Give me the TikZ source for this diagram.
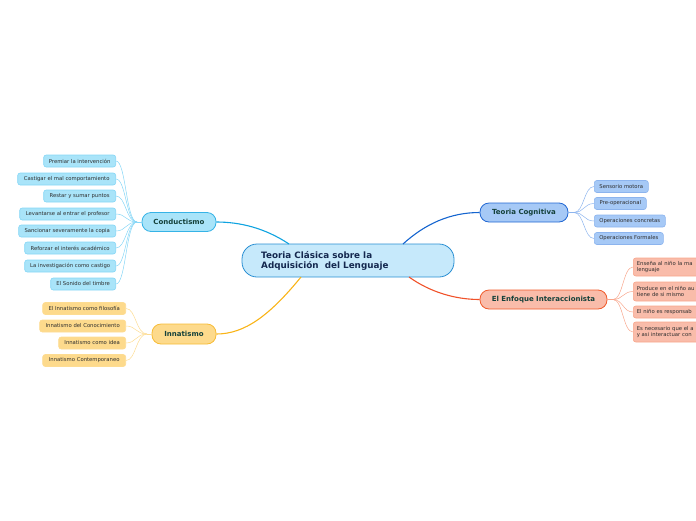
\documentclass[tikz,border=0pt]{standalone}
\usepackage{fontspec}
\setmainfont{DejaVu Sans}
\definecolor{cfill}{HTML}{C6E9FB}
\definecolor{cdraw}{HTML}{2A8FD3}
\definecolor{ctext}{HTML}{14284F}
\definecolor{kfill}{HTML}{A9E4F9}
\definecolor{kdraw}{HTML}{36B3E6}
\definecolor{kline}{HTML}{0FA3E0}
\definecolor{klight}{HTML}{86D6F6}
\definecolor{ifill}{HTML}{FDDA8C}
\definecolor{idraw}{HTML}{F7BC36}
\definecolor{iline}{HTML}{F9B418}
\definecolor{ilight}{HTML}{FDDC92}
\definecolor{tfill}{HTML}{A6C9F6}
\definecolor{tdraw}{HTML}{2167D3}
\definecolor{tline}{HTML}{1565CF}
\definecolor{tlight}{HTML}{8CB4EE}
\definecolor{efill}{HTML}{F9BCAA}
\definecolor{edraw}{HTML}{F05A2A}
\definecolor{eline}{HTML}{F0522A}
\definecolor{elight}{HTML}{F8A68C}
\definecolor{maintext}{HTML}{14413A}
\definecolor{leaftext}{HTML}{2E2E2E}
\tikzset{
  x=1pt, y=-1pt,
  leafbox/.style={rounded corners=2.5pt, line width=0.6pt, inner sep=1pt,
    minimum height=12pt, font=\fontsize{5.3}{6.3}\selectfont, text=leaftext},
  kleaf/.style={leafbox, draw=klight, fill=kfill},
  ileaf/.style={leafbox, draw=ilight, fill=ifill},
  tleaf/.style={leafbox, draw=tlight, fill=tfill},
  eleaf/.style={leafbox, draw=elight, fill=efill, align=left, text width=80pt, inner xsep=3.5pt},
  mainbox/.style={rounded corners=9pt, line width=0.8pt, inner sep=1pt,
    minimum height=19pt, font=\bfseries\fontsize{7}{8}\selectfont, text=maintext},
  centerbox/.style={rounded corners=15pt, line width=0.8pt, draw=cdraw, fill=cfill,
    minimum width=212pt, minimum height=33pt},
  kconn/.style={draw=klight, line width=0.5pt},
  iconn/.style={draw=ilight, line width=0.5pt},
  tconn/.style={draw=tlight, line width=0.5pt},
  econn/.style={draw=elight, line width=0.5pt},
}
\begin{document}
\begin{tikzpicture}
\useasboundingbox (0,0) rectangle (696,520);
\clip (0,0) rectangle (696,520);

% central
\node[centerbox] (center) at (348,260.5) {};
\node[font=\bfseries\fontsize{8.8}{10.8}\selectfont, text=ctext, align=left, anchor=west, inner sep=0pt] (ctitle) at (261,261) {Teoria Clásica sobre la\\Adquisición\ \ del Lenguaje};

% main nodes
\node[mainbox, draw=kdraw, fill=kfill, minimum width=74pt] (cond) at (179,222) {Conductismo};
\node[mainbox, draw=idraw, fill=ifill, minimum width=64pt, minimum height=20pt] (inna) at (184,334) {Innatismo};
\node[mainbox, draw=tdraw, fill=tfill, minimum width=88pt] (cogn) at (524,212.5) {Teoria Cognitiva};
\node[mainbox, draw=edraw, fill=efill, minimum width=127pt] (inter) at (543.5,299.5) {El Enfoque Interaccionista};

% main connectors
\coordinate (cA) at (289,244);
\coordinate (cB) at (301,277);
\coordinate (cC) at (403,244);
\coordinate (cD) at (409,277);
\draw[draw=kline, line width=1.1pt] (cA) .. controls (265,228) and (240,222) .. (cond.east);
\draw[draw=iline, line width=1.1pt] (cB) .. controls (270,315) and (245,334) .. (inna.east);
\draw[draw=tline, line width=1.1pt] (cC) .. controls (425,224) and (450,212.5) .. (cogn.west);
\draw[draw=eline, line width=1.1pt] (cD) .. controls (430,292) and (455,299.5) .. (inter.west);

% Conductismo leaves
\node[kleaf, anchor=east, minimum width=72pt] (k1) at (116,161) {Premiar la intervención};
\node[kleaf, anchor=east, minimum width=98pt] (k2) at (116,179) {Castigar el mal comportamiento};
\node[kleaf, anchor=east, minimum width=72pt] (k3) at (116,196) {Restar y sumar puntos};
\node[kleaf, anchor=east, minimum width=96pt] (k4) at (116,214) {Levantarse al entrar el profesor};
\node[kleaf, anchor=east, minimum width=97pt] (k5) at (116,231) {Sancionar severamente la copia};
\node[kleaf, anchor=east, minimum width=91pt] (k6) at (116,248) {Reforzar el interés académico};
\node[kleaf, anchor=east, minimum width=91pt] (k7) at (116,266) {La investigación como castigo};
\node[kleaf, anchor=east, minimum width=65pt] (k8) at (116,284) {El Sonido del timbre};
\coordinate (kj) at (137,222);
\draw[kconn] (cond.west) -- (kj);
\foreach \n in {k1,k2,k3,k4,k5,k6,k7,k8}
  \draw[kconn] (kj) .. controls (126,222) and (126,0 |- \n.east) .. (\n.east);

% Innatismo leaves
\node[ileaf, anchor=east, minimum width=83pt] (i1) at (126,308.5) {El Innatismo como filosofía};
\node[ileaf, anchor=east, minimum width=86pt] (i2) at (126,326) {Innatismo del Conocimiento};
\node[ileaf, anchor=east, minimum width=67pt] (i3) at (126,343) {Innatismo como idea};
\node[ileaf, anchor=east, minimum width=83pt] (i4) at (126,360.5) {Innatismo Contemporaneo};
\coordinate (ij) at (147,334);
\draw[iconn] (inna.west) -- (ij);
\foreach \n in {i1,i2,i3,i4}
  \draw[iconn] (ij) .. controls (136,334) and (136,0 |- \n.east) .. (\n.east);

% Cognitiva leaves
\node[tleaf, anchor=west, minimum width=54pt] (t1) at (594,186.5) {Sensorio motora};
\node[tleaf, anchor=west, minimum width=52pt] (t2) at (594,203.5) {Pre-operacional};
\node[tleaf, anchor=west, minimum width=71pt] (t3) at (594,221) {Operaciones concretas};
\node[tleaf, anchor=west, minimum width=69pt] (t4) at (594,238.5) {Operaciones Formales};
\coordinate (tj) at (574,212.5);
\draw[tconn] (cogn.east) -- (tj);
\foreach \n in {t1,t2,t3,t4}
  \draw[tconn] (tj) .. controls (584,212.5) and (584,0 |- \n.west) .. (\n.west);

% Interaccionista leaves
\node[eleaf, anchor=west, minimum height=18pt] (e1) at (633,267) {Enseña al niño la ma\\lenguaje};
\node[eleaf, anchor=west, minimum height=19pt] (e2) at (633,291.5) {Produce en el niño au\\tiene de si mismo};
\node[eleaf, anchor=west, minimum height=12pt] (e3) at (633,312) {El niño es responsab};
\node[eleaf, anchor=west, minimum height=20pt] (e4) at (633,332) {Es necesario que el a\\y asi interactuar con};
\coordinate (ej) at (613,299.5);
\draw[econn] (inter.east) -- (ej);
\foreach \n in {e1,e2,e3,e4}
  \draw[econn] (ej) .. controls (623,299.5) and (623,0 |- \n.west) .. (\n.west);
\end{tikzpicture}
\end{document}
